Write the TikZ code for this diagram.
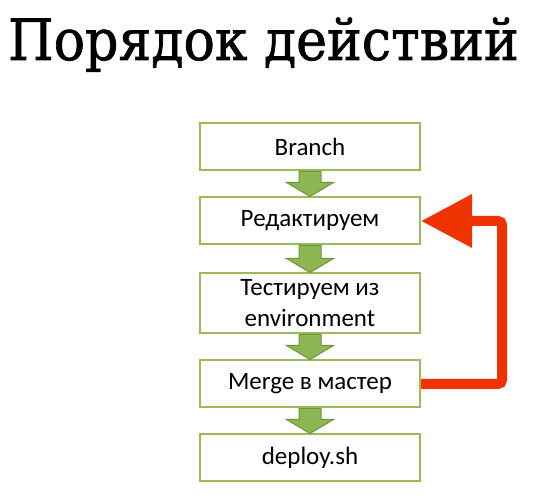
\documentclass[tikz,border=0pt]{standalone}
\usepackage{fontspec}
\setmainfont{Carlito}
\newfontfamily\titlefont[FakeStretch=0.915, FakeBold=1.2]{DejaVu Serif}
\usetikzlibrary{arrows.meta, positioning}
\definecolor{boxgreen}{HTML}{9BBB59}
\definecolor{arrowgreen}{HTML}{8DB753}
\definecolor{arrowedge}{HTML}{71933D}
\definecolor{loopred}{HTML}{EE3300}

\begin{document}
\begin{tikzpicture}[node distance=25pt]
    % Styles
    \tikzstyle{stage} = [rectangle, draw=boxgreen, line width=2pt, fill=white, minimum width=220pt, minimum height=47pt, inner sep=3pt, align=center, font=\fontsize{25}{31}\selectfont]
    \tikzstyle{down} = [draw=arrowedge, line width=1pt, fill=arrowgreen]
    \tikzstyle{back} = [draw=loopred, line width=10pt, rounded corners=4pt, -{Triangle[length=51pt, width=51pt]}]

    \useasboundingbox (0,0) rectangle (560pt,-502pt);

    % Title
    \node [anchor=base west, inner sep=0pt, font=\titlefont\fontsize{57}{60}\selectfont] (title) at (8pt,-60pt) {Порядок действий};

    % Nodes
    \node [stage] (branch) at (310pt,-147pt) {Branch};
    \node [stage, below=of branch] (edit) {Редактируем};
    \node [stage, below=27pt of edit, minimum height=60pt] (test) {Тестируем из\\environment};
    \node [stage, below=of test] (merge) {Merge в мастер};
    \node [stage, below=of merge] (deploy) {deploy.sh};

    % Edges
    \foreach \a/\b in {branch/edit, edit/test, test/merge, merge/deploy}
        \draw [down] ([xshift=-11pt]\a.south) -- ([xshift=-11pt, yshift=14pt]\b.north) -- ([xshift=-23.5pt, yshift=14pt]\b.north) -- (\b.north) -- ([xshift=23.5pt, yshift=14pt]\b.north) -- ([xshift=11pt, yshift=14pt]\b.north) -- ([xshift=11pt]\a.south) -- cycle;

    % Loop back
    \draw [back] (merge.east) -- ++(81pt,0) |- (edit.east);
\end{tikzpicture}
\end{document}
